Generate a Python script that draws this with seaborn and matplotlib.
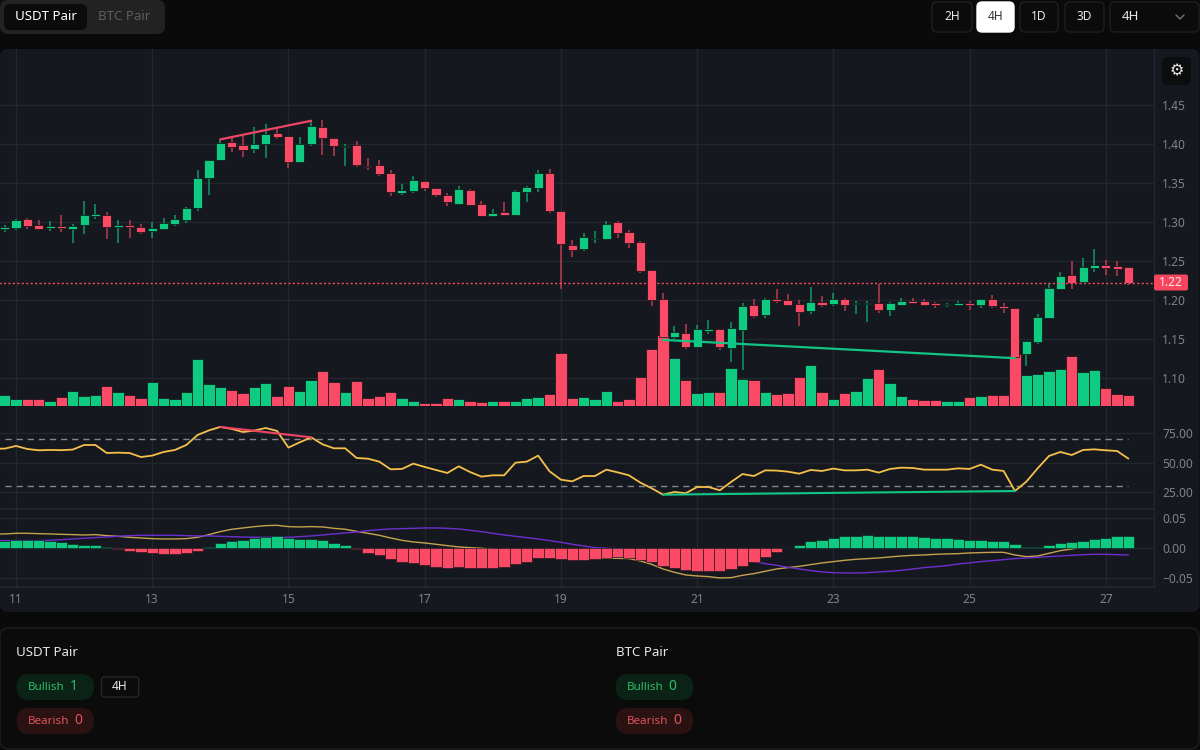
import numpy as np
import pandas as pd
import seaborn as sns
import matplotlib.pyplot as plt
from matplotlib.patches import FancyBboxPatch

# Candles, 4H, one entry per bar (first bar is index -1, day 11 is index 0)
opens = [1.2915,1.2923,1.3043,1.2970,1.2923,1.2957,1.2910,1.2962,1.3081,1.3090,
         1.2936,1.2970,1.2944,1.2889,1.2915,1.2983,1.3034,1.3188,1.3564,1.3803,
         1.4029,1.3991,1.3935,1.4008,1.4140,1.4106,1.3777,1.4008,1.4221,1.4080,
         1.3969,1.3995,1.3726,1.3730,1.3632,1.3380,1.3406,1.3525,1.3440,1.3354,
         1.3235,1.3414,1.3235,1.3085,1.3128,1.3094,1.3393,1.3444,1.3632,1.3149,
         1.2705,1.2663,1.2791,1.2791,1.3004,1.2872,1.2744,1.2394,1.2018,1.1527,
         1.1582,1.1407,1.1612,1.1634,1.1394,1.1625,1.1945,1.1813,1.2018,1.2005,
         1.1958,1.1864,1.1979,1.1958,1.2018,1.1950,1.1950,1.1971,1.1877,1.1941,
         1.1997,1.1992,1.1962,1.1937,1.1937,1.1971,1.1937,1.2018,1.1933,1.1898,
         1.1313,1.1467,1.1779,1.2150,1.2321,1.2236,1.2419,1.2453,1.2441,1.2428]
highs = [1.2966,1.3038,1.3051,1.3030,1.3017,1.3094,1.2974,1.3273,1.3235,1.3128,
         1.3030,1.3030,1.2979,1.3004,1.3056,1.3090,1.3196,1.3670,1.3798,1.4063,
         1.4076,1.4119,1.4217,1.4260,1.4204,1.4106,1.4089,1.4302,1.4311,1.4080,
         1.4003,1.4042,1.3824,1.3798,1.3670,1.3491,1.3598,1.3525,1.3440,1.3380,
         1.3465,1.3427,1.3273,1.3167,1.3260,1.3414,1.3465,1.3670,1.3683,1.3149,
         1.2769,1.2859,1.2885,1.3017,1.3017,1.2898,1.2757,1.2394,1.2090,1.1672,
         1.1693,1.1681,1.1745,1.1634,1.1723,1.1971,1.2018,1.2026,1.2142,1.2082,
         1.2005,1.2176,1.2056,1.2095,1.2031,1.1997,1.1992,1.2210,1.1984,1.2026,
         1.2031,1.2018,1.1984,1.1971,1.1992,1.1992,1.2022,1.2069,1.1971,1.1907,
         1.1476,1.1826,1.2227,1.2368,1.2505,1.2539,1.2658,1.2513,1.2505,1.2428]
lows = [1.2880,1.2902,1.2915,1.2898,1.2889,1.2876,1.2740,1.2851,1.3043,1.2786,
        1.2740,1.2799,1.2851,1.2799,1.2910,1.2957,1.2991,1.3141,1.3354,1.3798,
        1.3897,1.3837,1.3888,1.3824,1.4068,1.3692,1.3764,1.3982,1.3863,1.3850,
        1.3726,1.3705,1.3670,1.3594,1.3342,1.3350,1.3380,1.3401,1.3329,1.3209,
        1.3222,1.3209,1.3077,1.3068,1.3081,1.3090,1.3260,1.3389,1.3124,1.2150,
        1.2560,1.2637,1.2731,1.2786,1.2804,1.2675,1.2355,1.1924,1.1493,1.1501,
        1.1382,1.1403,1.1574,1.1369,1.1211,1.1108,1.1779,1.1779,1.1971,1.1924,
        1.1672,1.1830,1.1920,1.1924,1.1864,1.1826,1.1719,1.1843,1.1804,1.1924,
        1.1954,1.1933,1.1907,1.1920,1.1928,1.1877,1.1903,1.1903,1.1839,1.1258,
        1.1164,1.1441,1.1774,1.2142,1.2150,1.2231,1.2368,1.2321,1.2308,1.2201]
closes = [1.2940,1.3030,1.2949,1.2910,1.2949,1.2923,1.2957,1.3090,1.3107,1.2936,
          1.2970,1.2944,1.2876,1.2923,1.2991,1.3038,1.3184,1.3572,1.3798,1.4016,
          1.3969,1.3927,1.4003,1.4136,1.4093,1.3777,1.4003,1.4234,1.4085,1.3974,
          1.3982,1.3730,1.3705,1.3623,1.3384,1.3414,1.3538,1.3444,1.3346,1.3265,
          1.3427,1.3226,1.3081,1.3115,1.3094,1.3401,1.3448,1.3628,1.3141,1.2722,
          1.2650,1.2812,1.2804,1.2983,1.2863,1.2735,1.2381,1.2009,1.1527,1.1595,
          1.1407,1.1629,1.1634,1.1403,1.1642,1.1924,1.1804,1.2018,1.1992,1.1945,
          1.1856,1.1979,1.1945,1.2018,1.1945,1.1971,1.1971,1.1877,1.1971,1.1992,
          1.1967,1.1937,1.1937,1.1954,1.1971,1.1945,1.2018,1.1924,1.1898,1.1279,
          1.1476,1.1792,1.2163,1.2308,1.2227,1.2428,1.2453,1.2419,1.2406,1.2227]
volumes = [33,20,20,20,16,28,45,31,34,59,42,34,23,73,25,20,42,141,67,56,
           48,39,56,70,31,59,45,78,104,73,42,76,23,31,42,23,14,8,8,25,
           20,14,11,14,14,14,23,28,37,158,25,28,22,44,14,22,87,172,213,143,
           78,39,42,42,115,81,78,42,36,39,87,123,42,22,39,45,84,112,70,31,
           22,17,19,14,14,28,31,33,33,157,92,95,104,112,149,101,109,53,36,33]

# RSI and MACD lines start one bar earlier (index -2), they run off the left edge
rsi = [62.0,62.0,64.3,61.7,60.6,60.9,60.7,61.2,65.1,65.1,58.3,58.6,58.3,54.9,56.1,59.2,60.9,65.1,73.6,77.5,
       80.4,78.7,76.1,77.3,79.5,77.0,62.9,67.4,71.6,65.7,62.3,62.3,54.1,53.5,51.0,44.5,44.8,49.3,46.5,43.9,
       41.4,47.0,42.2,38.3,39.4,39.4,50.1,51.0,56.1,42.8,35.7,34.3,38.8,38.8,44.2,41.9,39.4,33.2,28.4,23.0,
       25.3,24.2,29.5,29.5,26.7,33.8,40.5,38.8,43.6,43.4,42.5,40.8,43.9,43.1,45.1,43.6,43.6,44.2,41.7,44.8,
       45.9,45.6,44.2,44.2,44.2,45.3,44.8,48.4,44.2,43.1,26.1,34.0,45.3,55.8,59.2,56.6,60.9,61.4,60.6,60.0,53.5]
macd_line = [.0239,.0239,.0250,.0250,.0244,.0239,.0233,.0228,.0222,.0228,.0211,.0200,.0183,.0172,.0161,.0156,.0156,.0161,.0183,.0228,
             .0278,.0317,.0339,.0361,.0378,.0383,.0361,.0356,.0361,.0356,.0333,.0317,.0283,.0250,.0217,.0172,.0133,.0106,.0089,.0067,
             .0044,.0022,.0011,.0,-.0017,-.0039,-.0050,-.0072,-.0089,-.0094,-.0117,-.0139,-.0156,-.0167,-.0167,-.0167,-.0172,-.0211,-.0267,-.0344,
             -.0400,-.0444,-.0461,-.0472,-.0494,-.0489,-.0450,-.0422,-.0383,-.0344,-.0322,-.0300,-.0272,-.0244,-.0222,-.0200,-.0183,-.0172,-.0161,-.0144,
             -.0128,-.0117,-.0111,-.0100,-.0094,-.0089,-.0078,-.0072,-.0067,-.0067,-.0111,-.0139,-.0128,-.0083,-.0039,-.0011,.0022,.0061,.0072,.0100,.0106]
macd_signal = [.0128,.0128,.0128,.0128,.0128,.0133,.0144,.0156,.0167,.0178,.0189,.0200,.0211,.0217,.0217,.0217,.0217,.0211,.0206,.0206,
               .0200,.0194,.0189,.0183,.0183,.0183,.0183,.0194,.0206,.0222,.0239,.0256,.0272,.0294,.0311,.0322,.0328,.0333,.0339,.0339,
               .0333,.0322,.0300,.0278,.0250,.0222,.0200,.0178,.0156,.0128,.0100,.0067,.0039,.0011,.0,-.0011,-.0022,-.0033,-.0050,-.0067,
               -.0083,-.0100,-.0122,-.0144,-.0161,-.0178,-.0194,-.0222,-.0256,-.0283,-.0317,-.0344,-.0372,-.0394,-.0406,-.0411,-.0411,-.0406,-.0394,-.0383,
               -.0367,-.0344,-.0322,-.0306,-.0289,-.0261,-.0244,-.0222,-.0206,-.0189,-.0172,-.0161,-.0150,-.0139,-.0128,-.0117,-.0106,-.0100,-.0100,-.0106,-.0111]
macd_hist = [.0122,.0133,.0133,.0133,.0128,.0100,.0067,.0050,.0050,.0022,-.0017,-.0039,-.0061,-.0078,-.0089,-.0089,-.0072,-.0039,.0022,.0083,
             .0117,.0144,.0178,.0194,.0211,.0178,.0161,.0161,.0133,.0083,.0056,-.0017,-.0072,-.0117,-.0178,-.0228,-.0244,-.0278,-.0311,-.0322,
             -.0311,-.0322,-.0322,-.0322,-.0311,-.0261,-.0228,-.0161,-.0161,-.0178,-.0194,-.0194,-.0178,-.0161,-.0144,-.0161,-.0194,-.0228,-.0289,-.0322,
             -.0356,-.0372,-.0372,-.0372,-.0339,-.0289,-.0228,-.0144,-.0067,.0006,.0056,.0117,.0144,.0178,.0206,.0206,.0222,.0211,.0211,.0211,
             .0211,.0194,.0178,.0178,.0161,.0144,.0144,.0128,.0117,.0067,.0017,.0017,.0050,.0083,.0100,.0128,.0161,.0178,.0211,.0211]

# Divergences, bar indices
bear_bars = [18, 26]
bull_bars = [57, 88]

day_ticks = [0, 12, 24, 36, 48, 60, 72, 84, 96]
day_labels = ['11', '13', '15', '17', '19', '21', '23', '25', '27']
price_ticks = [1.10, 1.15, 1.20, 1.25, 1.30, 1.35, 1.40, 1.45]
rsi_ticks = [25, 50, 75]
macd_ticks = [-0.05, 0.0, 0.05]
timeframes = ['2H', '4H', '1D', '3D']

GREEN = '#0fcb81'
RED = '#fb4a66'
GRID = '#22262d'
PAGE = '#0a0a0a'
PANEL = '#15191f'
TICK = '#7f8389'
GOLD = '#f5c04a'
W, H = 1200, 750

sns.set_theme(style='dark')
plt.rcParams['font.family'] = ['Noto Sans', 'DejaVu Sans']

candle_x = np.arange(len(opens)) - 1
line_x = np.arange(len(rsi)) - 2
opens, highs, lows, closes = map(np.array, (opens, highs, lows, closes))
rsi, macd_line, macd_signal = map(np.array, (rsi, macd_line, macd_signal))
up = closes >= opens

vol_df = pd.DataFrame({'bar': candle_x, 'volume': volumes,
                       'side': np.where(up, 'up', 'down')})
hist_df = pd.DataFrame({'bar': candle_x, 'hist': macd_hist,
                        'side': np.where(np.array(macd_hist) >= 0, 'up', 'down')})
side_colors = {'up': GREEN, 'down': RED}

fig = plt.figure(figsize=(12, 7.5), dpi=100, facecolor=PAGE)


def add_panel(x0, y0, x1, y1):
    # axes placed by pixel box, see-through so the rounded panel shows
    ax = fig.add_axes([x0 / W, 1 - y1 / H, (x1 - x0) / W, (y1 - y0) / H])
    ax.patch.set_visible(False)
    ax.set_xlim(-16 / 11.35, 100.25)
    return ax


def style_panel(ax, ticks, labels):
    ax.set_xlabel('')
    ax.set_ylabel('')
    ax.set_xlim(-16 / 11.35, 100.25)
    ax.set_xticks(day_ticks)
    ax.set_xticklabels([])
    ax.yaxis.tick_right()
    ax.set_yticks(ticks)
    ax.set_yticklabels(labels)
    ax.tick_params(axis='y', length=0, pad=6, labelsize=8.6, labelcolor=TICK)
    ax.tick_params(axis='x', length=0)
    ax.grid(True, color=GRID, lw=1)
    ax.set_axisbelow(True)
    for name in ['top', 'left', 'bottom']:
        ax.spines[name].set_visible(False)
    ax.spines['right'].set_color(GRID)
    ax.spines['right'].set_linewidth(1)


def hide_axes(ax):
    ax.set_xlabel('')
    ax.set_ylabel('')
    ax.set_xticks([])
    ax.set_yticks([])
    for s in ax.spines.values():
        s.set_visible(False)


# page background, panels, controls are all in one pixel axes
bg = fig.add_axes([0, 0, 1, 1], zorder=-1)
bg.set_xlim(0, W)
bg.set_ylim(H, 0)
bg.axis('off')


def rounded(ax, x0, y0, x1, y1, r, fc, ec='none', lw=1):
    ax.add_patch(FancyBboxPatch((x0, y0), x1 - x0, y1 - y0, boxstyle=f'round,pad=0,rounding_size={r}',
                                fc=fc, ec=ec, lw=lw))


rounded(bg, 0, 49, 1199.5, 612, 8, PANEL)
rounded(bg, 0, 628, 1199, 749, 9, '#0b0b0b', '#1e1e1e')

# price panel: grid at the back, then volume, then candles
ax_price = add_panel(0, 49, 1154, 406)
ax_price.set_ylim(1.0645, 1.5222)
style_panel(ax_price, price_ticks, [f'{t:.2f}' for t in price_ticks])

ax_vol = add_panel(0, 49, 1154, 406)
sns.barplot(vol_df, x='bar', y='volume', hue='side', palette=side_colors, native_scale=True, dodge=False,
            width=1.0, saturation=1, legend=False, errorbar=None, edgecolor='#10131a', linewidth=0.5, ax=ax_vol)
ax_vol.set_xlim(-16 / 11.35, 100.25)
ax_vol.set_ylim(0, 1071)
hide_axes(ax_vol)

ax_candle = add_panel(0, 49, 1154, 406)
ax_candle.set_ylim(1.0645, 1.5222)
candle_colors = np.where(up, GREEN, RED)
ax_candle.vlines(candle_x, lows, highs, colors=candle_colors, lw=1.1, alpha=0.7, zorder=2)
ax_candle.bar(candle_x, closes - opens, bottom=opens, width=0.8, color=candle_colors,
              edgecolor='#0d1015', linewidth=0.5, zorder=3)
ax_candle.hlines(closes[-1], -2, 101, colors=RED, lw=1, linestyles=(0, (1.5, 1.7)), zorder=4)
sns.lineplot(x=bear_bars, y=[highs[b + 1] for b in bear_bars], color='#ee4566', lw=1.6, ax=ax_candle, zorder=5)
sns.lineplot(x=bull_bars, y=[lows[b + 1] for b in bull_bars], color='#12c587', lw=1.6, ax=ax_candle, zorder=5)
hide_axes(ax_candle)

# RSI panel
ax_rsi = add_panel(0, 407, 1154, 509)
sns.lineplot(x=line_x, y=rsi, color=GOLD, lw=1.3, ax=ax_rsi, zorder=3)
ax_rsi.hlines([70, 30], candle_x[0], candle_x[-1], colors='#83868b', lw=1, linestyles=(0, (4.5, 3.5)), zorder=2)
sns.lineplot(x=bear_bars, y=[rsi[b + 2] for b in bear_bars], color='#ee4566', lw=1.5, ax=ax_rsi, zorder=4)
sns.lineplot(x=bull_bars, y=[rsi[b + 2] for b in bull_bars], color='#12c587', lw=1.5, ax=ax_rsi, zorder=4)
ax_rsi.set_ylim(10.85, 97.3)
style_panel(ax_rsi, rsi_ticks, [f'{t:.2f}' for t in rsi_ticks])

# MACD panel
ax_macd = add_panel(0, 509, 1154, 587)
sns.lineplot(x=line_x, y=macd_line, color='#c7a24e', lw=1, ax=ax_macd, zorder=1)
sns.lineplot(x=line_x, y=macd_signal, color='#6d2fd0', lw=1, ax=ax_macd, zorder=1)
sns.barplot(hist_df, x='bar', y='hist', hue='side', palette=side_colors, native_scale=True, dodge=False,
            width=1.0, saturation=1, legend=False, errorbar=None, edgecolor='#10131a', linewidth=0.4,
            zorder=1.5, ax=ax_macd)
ax_macd.set_ylim(-0.0645, 0.0655)
style_panel(ax_macd, macd_ticks, ['\u22120.05', '0.00', '0.05'])
ax_macd.spines['top'].set_visible(True)
ax_macd.spines['top'].set_color(GRID)
ax_macd.spines['bottom'].set_visible(True)
ax_macd.spines['bottom'].set_color(GRID)
ax_macd.set_xticklabels(day_labels)
ax_macd.tick_params(axis='x', pad=4.5, labelsize=8.6, labelcolor=TICK)
for t in ax_macd.get_xticklabels():
    t.set_fontweight('bold')

# controls on top of everything
ui = fig.add_axes([0, 0, 1, 1], zorder=10)
ui.set_xlim(0, W)
ui.set_ylim(H, 0)
ui.axis('off')


def label(x, y, s, color='white', size=10, ha='center'):
    ui.text(x, y, s, color=color, fontsize=size, ha=ha, va='center')


# last price tag
rounded(ui, 1154, 274.5, 1188, 290.5, 2, '#f6465d')
label(1171, 282.5, f'{closes[-1]:.2f}', color='#ffe9ec', size=8.6)

# pair tabs
rounded(ui, 0, 0, 165, 34, 8, '#222222')
rounded(ui, 4, 4, 87, 30, 6, '#0b0b0b')
label(45.5, 17, 'USDT Pair', size=9.6)
label(124.5, 17, 'BTC Pair', color='#5d5d5d', size=9.6)

# timeframe buttons
button_boxes = [(932, 972), (977, 1014), (1020, 1058), (1065, 1104)]
for name, (x0, x1) in zip(timeframes, button_boxes):
    active = name == '4H'
    rounded(ui, x0, 2, x1, 32, 5, 'white' if active else '#0b0b0b', 'white' if active else '#1f1f1f')
    label((x0 + x1) / 2, 17, name, color='#333333' if active else '#e8e8e8', size=8.6)
rounded(ui, 1110, 2, 1199, 32, 5, '#0b0b0b', '#1f1f1f')
label(1122, 17, '4H', size=9.6, ha='left', color='#e8e8e8')
ui.plot([1176, 1180, 1184], [15, 19, 15], color='#777777', lw=1)

# settings button
rounded(ui, 1162, 57, 1191, 85, 5, '#0c0d0f')
ui.text(1176.5, 71, '\u2699', color='#e8e8e8', fontsize=11.5, ha='center', va='center', family='DejaVu Sans')

# signal summary
for x0, pair, n_bull, n_bear in [(16.5, 'USDT Pair', 1, 0), (615.7, 'BTC Pair', 0, 0)]:
    label(x0, 653, pair, size=9.6, ha='left', color='#e6e6e6')
    rounded(ui, x0, 674, x0 + 77.5, 700, 13, '#0b2316')
    label(x0 + 11, 687, 'Bullish', color='#2dbb68', size=8.4, ha='left')
    label(x0 + 57, 687, str(n_bull), color='#2dbb68', size=10)
    rounded(ui, x0, 708, x0 + 77.5, 734, 13, '#2a1212')
    label(x0 + 11, 721, 'Bearish', color='#e0525a', size=8.4, ha='left')
    label(x0 + 62, 721, str(n_bear), color='#e0525a', size=10)
rounded(ui, 101.5, 677, 138.7, 697, 3, '#0b0b0b', '#262626')
label(120, 687, '4H', size=8.6, color='#e8e8e8')

fig.savefig('out.png', dpi=100, facecolor=PAGE)
